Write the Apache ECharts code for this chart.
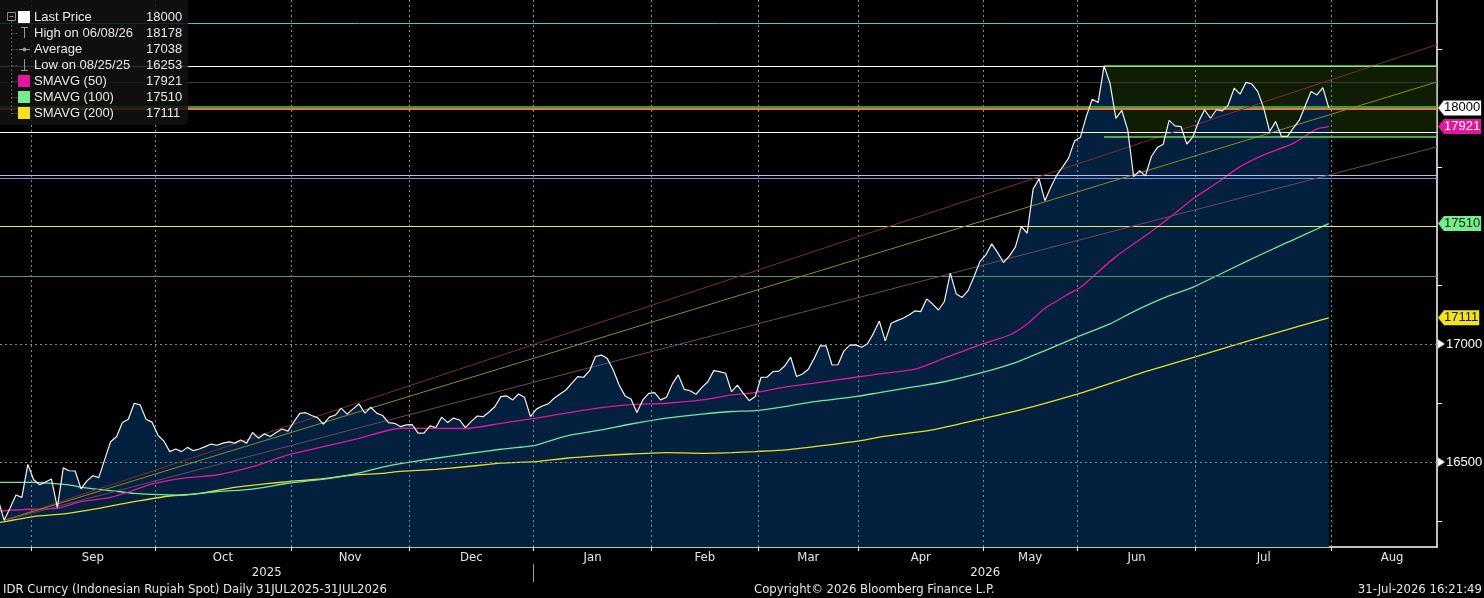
<!DOCTYPE html>
<html>
<head>
<meta charset="utf-8">
<script src="https://cdn.jsdelivr.net/npm/echarts@6/dist/echarts.min.js"></script>
<style>
html,body{margin:0;padding:0;background:#000;}
#chart{width:1484px;height:598px;}
</style>
</head>
<body>
<div id="chart"></div>
<script>
// x axis = trading-day index, 0 = 25 Aug 2025
var monthNames = ['Sep','Oct','Nov','Dec','Jan','Feb','Mar','Apr','May','Jun','Jul','Aug'];
var monthBounds = [4.5,25.5,48.5,68.5,89.5,109.5,127.5,144.5,165.5,181.5,201.5,224.5];
var monthLabelAt = [15,37,58.5,79,99.5,118.5,136,155,173.5,191.5,213,234.7];
var yearNames = ['2025','2026'];
var yearLabelAt = [44.4,165.9];
var yearBounds = [89.5];

// Last Price, one value per trading day from index -1
var priceStart = -1;
var priceValues = [16340,
  16253,16305,16360,16350,16490,16425,16404,16415,16428,16307,
  16475,16463,16462,16386,16420,16442,16434,16510,16586,16607,
  16667,16681,16749,16742,16681,16669,16614,16589,16544,16555,
  16544,16562,16548,16555,16565,16576,16571,16580,16585,16580,
  16593,16580,16625,16601,16619,16608,16625,16640,16631,16670,
  16706,16709,16697,16688,16660,16690,16699,16728,16703,16725,
  16746,16707,16732,16707,16697,16667,16664,16650,16657,16658,
  16622,16622,16653,16646,16690,16667,16686,16678,16646,16672,
  16695,16692,16712,16735,16777,16780,16763,16788,16774,16692,
  16724,16737,16746,16770,16788,16805,16834,16862,16859,16887,
  16947,16953,16938,16890,16826,16780,16767,16710,16763,16791,
  16794,16763,16774,16831,16869,16808,16802,16787,16816,16840,
  16887,16883,16876,16798,16826,16791,16760,16777,16859,16859,
  16883,16885,16907,16944,16862,16873,16893,16940,16992,16992,
  16911,16912,16970,16995,16996,16986,17001,17045,17097,17013,
  17088,17099,17109,17123,17140,17137,17191,17169,17144,17180,
  17300,17212,17197,17226,17285,17349,17377,17424,17387,17345,
  17373,17410,17498,17469,17656,17700,17607,17665,17715,17750,
  17787,17860,17876,17964,18037,18023,18178,18105,17956,17989,
  17907,17709,17734,17712,17794,17832,17846,17947,17924,17921,
  17847,17876,17942,17992,17956,17992,17987,18013,18083,18058,
  18108,18101,18069,17999,17900,17942,17879,17879,17914,17947,
  18008,18069,18055,18086,18000];

var sma50 = [[-1,16292],[4,16300],[9,16304],[13,16332],[18,16350],[22,16381],[25,16407],[30,16431],
  [36,16445],[42,16480],[48,16530],[54,16565],[60,16600],[67,16643],[78,16642],[84,16664],[90,16686],
  [95,16707],[101,16730],[106,16743],[112,16749],[118,16763],[123,16784],[127,16794],[132,16817],
  [137,16834],[144,16859],[148,16873],[154,16893],[159,16940],[165,16996],[170,17038],[173,17085],
  [176,17151],[180,17212],[182,17240],[188,17370],[194,17476],[198,17554],[201,17614],[205,17681],
  [209,17751],[213,17801],[218,17850],[222,17911],[224,17921]];

var sma100 = [[-1,16414],[5,16414],[11,16403],[13,16393],[18,16379],[22,16367],[25,16363],[30,16360],
  [36,16375],[40,16381],[44,16393],[48,16410],[53,16424],[59,16448],[64,16478],[67,16493],[73,16516],
  [78,16534],[84,16554],[90,16572],[95,16610],[101,16636],[106,16661],[112,16686],[118,16703],
  [123,16714],[127,16718],[132,16735],[137,16756],[144,16777],[148,16794],[154,16819],[159,16840],
  [165,16876],[171,16921],[176,16972],[181,17025],[187,17085],[191,17137],[196,17194],[201,17240],
  [205,17288],[210,17349],[216,17419],[218,17441],[222,17487],[224,17510]];

var sma200 = [[-1,16243],[5,16269],[10,16280],[16,16304],[22,16332],[28,16356],[33,16367],[39,16393],
  [44,16407],[48,16417],[53,16427],[59,16445],[64,16452],[67,16460],[73,16469],[78,16480],[84,16495],
  [90,16502],[95,16516],[101,16527],[106,16534],[112,16540],[118,16537],[123,16540],[127,16544],
  [132,16551],[137,16565],[144,16587],[148,16605],[152,16619],[157,16636],[165,16681],[174,16735],
  [181,16784],[188,16841],[193,16883],[201,16942],[210,17010],[219,17076],[224,17111]];

// study lines
var levelValues = [18360,18178,18110,18006,17998,17898,17714,17703,17498,17287];
var trendStart = [0,16253];
var trendEnds = [18268,18110,17835];
var boxRange = [186,18178,17877]; // from day, top, bottom
var gridLevels = [16500,17000];

var legendLabels = ['Last Price','High on 06/08/26','Average','Low on 08/25/25','SMAVG (50)','SMAVG (100)','SMAVG (200)'];
var legendValues = ['18000','18178','17038','16253','17921','17510','17111'];

var yTicks = [16250,16750,17250,17750,18250];

var X_MIN = -0.7, X_MAX = 242.3;
var SANS = "'Liberation Sans', Arial, sans-serif";
var COND = "'DejaVu Sans Condensed', 'Liberation Sans Narrow', 'Liberation Sans', sans-serif";
var levelColors = ['#4cc3cc','#ffffff','#3a3a3a','#4cc44c','#e8763a','#ffffff','#c8b8f0','#6f8fe0','#e8e85a','#3f9a6c'];
var levelWidths = [1,1.2,1,1.5,2,1.2,1.2,1.2,1.2,1];
var trendColors = ['#7a2f30','#8a8a26','#70455f'];

function tri(color, w, h, dir){
    var c = document.createElement('canvas');
    c.width = w; c.height = h;
    var g = c.getContext('2d');
    g.fillStyle = color;
    g.beginPath();
    if(dir == 'left'){ g.moveTo(w,0); g.lineTo(0,h/2); g.lineTo(w,h); }
    else { g.moveTo(0,0); g.lineTo(w,h/2); g.lineTo(0,h); }
    g.closePath();
    g.fill();
    return c;
}

var lastPrice = priceValues[priceValues.length-1];
var last50 = sma50[sma50.length-1][1];
var last100 = sma100[sma100.length-1][1];
var last200 = sma200[sma200.length-1][1];
var tagKey = {};
tagKey[lastPrice] = 'w'; tagKey[last50] = 'm'; tagKey[last100] = 'g'; tagKey[last200] = 'y';

function findLabel(list, names, v){
    for(var i=0;i<list.length;i++){ if(Math.abs(list[i]-v)<0.01) return names[i]; }
    return '';
}

var priceData = priceValues.map(function(v,i){ return [priceStart+i, v]; });

var chart = echarts.init(document.getElementById('chart'));

var markLineBase = {
    silent: true, symbol: ['none','none'], label: {show:false},
    emphasis: {disabled: true}, animation: false
};

function tagStyle(bg, fg){
    return {backgroundColor: bg, color: fg, fontSize: 13, fontFamily: SANS, lineHeight: 15, height: 15, padding: [0,1,0,0]};
}
function arrowStyle(bg){
    return {width: 6, height: 15, backgroundColor: {image: tri(bg,6,15,'left')}};
}

var option = {
    backgroundColor: '#000',
    animation: false,
    grid: {left: 0, right: 47, top: 0, bottom: 51, containLabel: false, outerBoundsMode: 'none'},
    xAxis: [{
        type: 'value', min: X_MIN, max: X_MAX, position: 'bottom',
        axisLine: {show: true, onZero: false, lineStyle: {color: '#ffffff', width: 1.5}},
        axisTick: {show: true, customValues: monthBounds, length: 4, lineStyle: {color: '#ffffff'}},
        axisLabel: {
            customValues: monthLabelAt, color: '#e6e6e6', fontFamily: COND, fontSize: 13, margin: 4,
            formatter: function(v){ return findLabel(monthLabelAt, monthNames, v); }
        },
        splitLine: {show: false}
    }, {
        type: 'value', min: X_MIN, max: X_MAX, position: 'bottom', offset: 17,
        axisLine: {show: false, onZero: false},
        axisTick: {show: true, customValues: yearBounds, length: 18, lineStyle: {color: '#9a9a9a'}},
        axisLabel: {
            customValues: yearLabelAt, color: '#e6e6e6', fontFamily: COND, fontSize: 13, margin: 2,
            formatter: function(v){ return findLabel(yearLabelAt, yearNames, v); }
        },
        splitLine: {show: false}
    }],
    yAxis: {
        type: 'value', position: 'right', min: 16140, max: 18457,
        axisLine: {show: true, onZero: false, lineStyle: {color: '#ffffff', width: 1.5}},
        axisTick: {show: true, customValues: yTicks, length: 5, lineStyle: {color: '#ffffff'}},
        axisLabel: {
            customValues: gridLevels.concat([last200, last100, last50, lastPrice]),
            margin: 1,
            formatter: function(v){
                var k = tagKey[v];
                if(k) return '{' + k + 'a| }{' + k + '|' + v + '}';
                return '{pa| }{p|' + v + '}';
            },
            rich: {
                wa: arrowStyle('#ffffff'), w: tagStyle('#ffffff','#000000'),
                ma: arrowStyle('#e3179c'), m: tagStyle('#e3179c','#ffffff'),
                ga: arrowStyle('#74ee8e'), g: tagStyle('#74ee8e','#0a2a0a'),
                ya: arrowStyle('#f2e41c'), y: tagStyle('#f2e41c','#1a1a00'),
                pa: {width: 7, height: 9, backgroundColor: {image: tri('#ffffff',7,9,'right')}},
                p: {color: '#ffffff', fontSize: 13, fontFamily: SANS, padding: [0,0,0,1]}
            }
        },
        splitLine: {show: false}
    },
    series: [{
        name: 'area', type: 'line', data: priceData, symbol: 'none', silent: true, z: 1,
        lineStyle: {width: 0}, areaStyle: {color: '#03203f', opacity: 1, origin: 'start'}
    }, {
        name: 'grid', type: 'line', data: [], z: 2,
        markLine: Object.assign({}, markLineBase, {
            lineStyle: {color: '#7c8c9c', type: [2,3], width: 1},
            data: monthBounds.map(function(b){ return {xAxis: b}; })
                .concat(gridLevels.map(function(v){ return {yAxis: v}; }))
        })
    }, {
        name: 'box', type: 'line', data: [], z: 3,
        markArea: {
            silent: true, itemStyle: {color: 'rgba(40,85,10,0.34)', borderWidth: 0},
            data: [[{coord: [boxRange[0], boxRange[1]]}, {coord: [X_MAX, boxRange[2]]}]]
        }
    }, {
        name: 'levels', type: 'line', data: [], z: 3,
        markLine: Object.assign({}, markLineBase, {
            data: levelValues.map(function(v,i){
                return {yAxis: v, lineStyle: {color: levelColors[i], width: levelWidths[i], type: 'solid'}};
            })
        })
    }, {
        name: 'trend', type: 'line', data: [], z: 3,
        markLine: Object.assign({}, markLineBase, {
            data: trendEnds.map(function(v,i){
                return [{coord: trendStart, lineStyle: {color: trendColors[i], width: 1, type: 'solid'}}, {coord: [X_MAX, v]}];
            }).concat([boxRange[1], boxRange[2]].map(function(v){
                return [{coord: [boxRange[0], v], lineStyle: {color: '#6fd35a', width: 1.5, type: 'solid'}}, {coord: [X_MAX, v]}];
            }))
        })
    }, {
        name: 'SMAVG (200)', type: 'line', data: sma200, symbol: 'none', smooth: 0.2, z: 4, silent: true,
        lineStyle: {color: '#e6de22', width: 1.3}
    }, {
        name: 'SMAVG (100)', type: 'line', data: sma100, symbol: 'none', smooth: 0.2, z: 4, silent: true,
        lineStyle: {color: '#74e89a', width: 1.3}
    }, {
        name: 'SMAVG (50)', type: 'line', data: sma50, symbol: 'none', smooth: 0.2, z: 4, silent: true,
        lineStyle: {color: '#e3179c', width: 1.3}
    }, {
        name: 'Last Price', type: 'line', data: priceData, symbol: 'none', z: 6, silent: true,
        lineStyle: {color: '#f2f2f2', width: 1.2}
    }],
    graphic: []
};

// legend panel
var rowY = [17,33,49,65,81,97,113];
var swatch = ['#ffffff', null, null, null, '#e3179c', '#74ee8e', '#f2e41c'];
var g = [];
g.push({type: 'rect', shape: {x: 0, y: 0, width: 188, height: 125, r: [0,0,6,0]}, style: {fill: 'rgba(18,18,18,0.86)'}, z: 100});
g.push({type: 'rect', shape: {x: 7.5, y: 12.5, width: 8, height: 8}, style: {fill: 'none', stroke: '#8a8a8a', lineWidth: 1}, z: 101});
g.push({type: 'line', shape: {x1: 9.5, y1: 16.5, x2: 13.5, y2: 16.5}, style: {stroke: '#8a8a8a', lineWidth: 1}, z: 101});
g.push({type: 'line', shape: {x1: 11.5, y1: 21, x2: 11.5, y2: 113.5}, style: {stroke: '#5a5a5a', lineWidth: 1, lineDash: [2,2]}, z: 101});
rowY.forEach(function(y, i){
    if(i > 0) g.push({type: 'line', shape: {x1: 11.5, y1: y+0.5, x2: 17, y2: y+0.5}, style: {stroke: '#5a5a5a', lineWidth: 1, lineDash: [2,2]}, z: 101});
    if(swatch[i]) g.push({type: 'rect', shape: {x: 18, y: y-6, width: 12, height: 12}, style: {fill: swatch[i]}, z: 101});
    g.push({type: 'text', x: 34, y: y, style: {text: legendLabels[i], fill: '#e8e8e8', font: '13px ' + SANS, verticalAlign: 'middle'}, z: 102});
    g.push({type: 'text', x: 146, y: y, style: {text: legendValues[i], fill: '#e8e8e8', font: '13px ' + SANS, verticalAlign: 'middle'}, z: 102});
});
// small marker icons for high / average / low
g.push({type: 'line', shape: {x1: 24.5, y1: 27, x2: 24.5, y2: 38}, style: {stroke: '#9a9a9a', lineWidth: 1}, z: 101});
g.push({type: 'line', shape: {x1: 21, y1: 27.5, x2: 28, y2: 27.5}, style: {stroke: '#9a9a9a', lineWidth: 1}, z: 101});
g.push({type: 'line', shape: {x1: 19, y1: 49.5, x2: 30, y2: 49.5}, style: {stroke: '#9a9a9a', lineWidth: 1}, z: 101});
g.push({type: 'circle', shape: {cx: 24.5, cy: 49.5, r: 2}, style: {fill: '#9a9a9a'}, z: 101});
g.push({type: 'line', shape: {x1: 24.5, y1: 59, x2: 24.5, y2: 70}, style: {stroke: '#9a9a9a', lineWidth: 1}, z: 101});
g.push({type: 'line', shape: {x1: 21, y1: 70.5, x2: 28, y2: 70.5}, style: {stroke: '#9a9a9a', lineWidth: 1}, z: 101});
// footer
g.push({type: 'text', x: 3, y: 590, style: {text: 'IDR Curncy (Indonesian Rupiah Spot) Daily 31JUL2025-31JUL2026', fill: '#e6e6e6', font: '13px ' + COND, verticalAlign: 'middle'}});
g.push({type: 'text', x: 754, y: 590, style: {text: 'Copyright\u00a9 2026 Bloomberg Finance L.P.', fill: '#e6e6e6', font: '13px ' + COND, verticalAlign: 'middle'}});
g.push({type: 'text', x: 1482, y: 590, style: {text: '31-Jul-2026 16:21:49', fill: '#e6e6e6', font: '13px ' + COND, verticalAlign: 'middle', align: 'right'}});
option.graphic = g;

chart.setOption(option);
</script>
</body>
</html>
